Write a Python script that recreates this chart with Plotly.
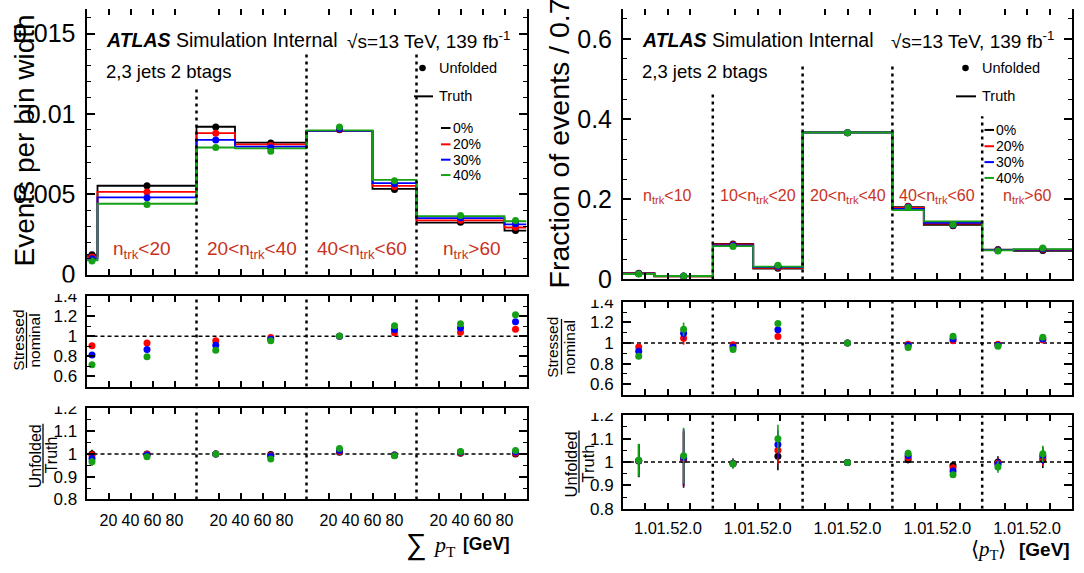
import plotly.graph_objects as go

W, H = 1084, 573
FONT = "Liberation Sans, Arial, Helvetica, sans-serif"
NARROW = "Liberation Sans Narrow, Arial Narrow, Liberation Sans, sans-serif"
SERIF = "Liberation Serif, Times New Roman, serif"
REGION_RED = "#c8321e"

stress_levels = ["0%", "20%", "30%", "40%"]
stress_colors = ["#000000", "#ff0000", "#0000ff", "#16a016"]

# ---------------- Sum pT in four n_trk regions (each region 0-100 GeV) ----------------
sumpt_regions = ["n<sub>trk</sub>&lt;20", "20&lt;n<sub>trk</sub>&lt;40",
                 "40&lt;n<sub>trk</sub>&lt;60", "n<sub>trk</sub>&gt;60"]
sumpt_region_width = 100
sumpt_bin_edges = [[0, 10, 100], [0, 35, 100], [0, 60, 100], [0, 80, 100]]
sumpt_ticks = [20, 40, 60, 80]
sumpt_tick_labels = ["20", "40", "60", "80"]

sumpt_truth = [
    [0.00123, 0.00553, 0.00920, 0.00821, 0.00895, 0.00533, 0.00324, 0.00274],
    [0.00111, 0.00515, 0.00880, 0.00810, 0.00895, 0.00552, 0.00337, 0.00293],
    [0.00100, 0.00480, 0.00838, 0.00797, 0.00895, 0.00569, 0.00351, 0.00313],
    [0.00088, 0.00441, 0.00791, 0.00785, 0.00897, 0.00589, 0.00364, 0.00332],
]
sumpt_unfolded = [
    [0.00123, 0.00553, 0.00919, 0.00819, 0.00901, 0.00530, 0.00325, 0.00274],
    [0.00110, 0.00514, 0.00880, 0.00804, 0.00904, 0.00549, 0.00339, 0.00294],
    [0.00098, 0.00478, 0.00838, 0.00789, 0.00908, 0.00566, 0.00354, 0.00316],
    [0.00085, 0.00436, 0.00791, 0.00768, 0.00918, 0.00584, 0.00368, 0.00337],
]
# stressed / nominal for the 20%, 30%, 40% variations
sumpt_stressed_ratio = [
    [0.905, 0.933, 0.956, 0.987, 1.000, 1.035, 1.040, 1.070],
    [0.813, 0.867, 0.911, 0.971, 1.000, 1.067, 1.083, 1.143],
    [0.717, 0.797, 0.860, 0.956, 1.002, 1.105, 1.124, 1.213],
]
sumpt_unfolded_ratio = [
    [1.000, 1.000, 0.999, 0.997, 1.007, 0.995, 1.003, 1.000],
    [0.995, 0.998, 0.999, 0.993, 1.010, 0.995, 1.005, 1.003],
    [0.980, 0.995, 1.000, 0.990, 1.015, 0.994, 1.008, 1.008],
    [0.965, 0.987, 1.000, 0.978, 1.024, 0.992, 1.011, 1.015],
]
sumpt_unfolded_ratio_err = [0.018, 0.004, 0.003, 0.004, 0.004, 0.004, 0.006, 0.012]

# ---------------- <pT> in five n_trk regions (each region 0.5-2.5 GeV) ----------------
meanpt_regions = ["n<sub>trk</sub>&lt;10", "10&lt;n<sub>trk</sub>&lt;20", "20&lt;n<sub>trk</sub>&lt;40",
                  "40&lt;n<sub>trk</sub>&lt;60", "n<sub>trk</sub>&gt;60"]
meanpt_region_width = 2.0
meanpt_bin_edges = [[0.5, 1.2, 2.5], [0.5, 1.4, 2.5], [0.5, 2.5], [0.5, 1.2, 2.5], [0.5, 1.2, 2.5]]
meanpt_ticks = [1.0, 1.5, 2.0]
meanpt_tick_labels = ["1.0", "1.5", "2.0"]

meanpt_truth = [
    [0.0155, 0.0075, 0.0885, 0.0270, 0.3666, 0.1805, 0.1360, 0.0745, 0.0715],
    [0.0149, 0.0079, 0.0871, 0.0287, 0.3666, 0.1782, 0.1390, 0.0735, 0.0735],
    [0.0142, 0.0082, 0.0851, 0.0305, 0.3665, 0.1760, 0.1414, 0.0729, 0.0744],
    [0.0135, 0.0085, 0.0829, 0.0321, 0.3665, 0.1726, 0.1450, 0.0722, 0.0755],
]
meanpt_unfolded = [
    [0.0156, 0.0076, 0.0881, 0.0277, 0.3659, 0.1823, 0.1340, 0.0745, 0.0722],
    [0.0150, 0.0080, 0.0866, 0.0301, 0.3659, 0.1818, 0.1357, 0.0731, 0.0750],
    [0.0143, 0.0084, 0.0845, 0.0328, 0.3658, 0.1809, 0.1360, 0.0722, 0.0765],
    [0.0136, 0.0087, 0.0822, 0.0353, 0.3658, 0.1791, 0.1372, 0.0707, 0.0781],
]
meanpt_stressed_ratio = [
    [0.962, 1.047, 0.984, 1.062, 1.000, 0.987, 1.022, 0.987, 1.028],
    [0.919, 1.094, 0.962, 1.128, 1.000, 0.975, 1.040, 0.978, 1.040],
    [0.872, 1.134, 0.937, 1.190, 1.000, 0.956, 1.066, 0.969, 1.056],
]
meanpt_stressed_ratio_err = [0.025, 0.065, 0.010, 0.015, 0.002, 0.008, 0.010, 0.010, 0.012]
meanpt_unfolded_ratio = [
    [1.005, 1.010, 0.995, 1.025, 0.998, 1.010, 0.985, 1.000, 1.010],
    [1.006, 1.015, 0.994, 1.050, 0.998, 1.020, 0.976, 0.995, 1.020],
    [1.007, 1.020, 0.993, 1.075, 0.998, 1.028, 0.962, 0.990, 1.028],
    [1.008, 1.027, 0.992, 1.100, 0.998, 1.038, 0.946, 0.979, 1.035],
]
meanpt_unfolded_ratio_err = [0.070, 0.120, 0.020, 0.060, 0.003, 0.015, 0.012, 0.025, 0.035]


# ---------------- helpers: flatten region-wise binning onto one axis ----------------
def flat_edges(edges, width):
    out = []
    for k, e in enumerate(edges):
        for v in e:
            g = k * width + v
            if not out or abs(g - out[-1]) > 1e-9:
                out.append(g)
    return out


def centers(edges):
    return [(a + b) / 2 for a, b in zip(edges[:-1], edges[1:])]


def boundaries(edges, width):
    return [k * width + e[-1] for k, e in enumerate(edges[:-1])]


def region_centres(edges, width):
    return [k * width + (e[0] + e[-1]) / 2 for k, e in enumerate(edges)]


def tick_positions(edges, width, ticks):
    return [k * width + t for k in range(len(edges)) for t in ticks]


L_EDGES = flat_edges(sumpt_bin_edges, sumpt_region_width)
L_CENT = centers(L_EDGES)
L_BOUND = boundaries(sumpt_bin_edges, sumpt_region_width)
L_RANGE = [L_EDGES[0], L_EDGES[-1]]
L_TICKS = tick_positions(sumpt_bin_edges, sumpt_region_width, sumpt_ticks)
L_TICKTEXT = sumpt_tick_labels * len(sumpt_bin_edges)

R_EDGES = flat_edges(meanpt_bin_edges, meanpt_region_width)
R_CENT = centers(R_EDGES)
R_BOUND = boundaries(meanpt_bin_edges, meanpt_region_width)
R_RANGE = [R_EDGES[0], R_EDGES[-1]]
R_TICKS = tick_positions(meanpt_bin_edges, meanpt_region_width, meanpt_ticks)
R_TICKTEXT = meanpt_tick_labels * len(meanpt_bin_edges)

fig = go.Figure()


def add_hist(truth, unfolded, x_edges, x_cent, xa, ya):
    for i, col in enumerate(stress_colors):
        fig.add_trace(go.Scatter(
            x=x_edges, y=truth[i] + [truth[i][-1]], mode="lines",
            line=dict(color=col, width=1.8, shape="hv"),
            xaxis=xa, yaxis=ya, hoverinfo="skip", showlegend=False))
    for i, col in enumerate(stress_colors):
        fig.add_trace(go.Scatter(
            x=x_cent, y=unfolded[i], mode="markers",
            marker=dict(color=col, size=7),
            xaxis=xa, yaxis=ya, hoverinfo="skip", showlegend=False))


def add_ratio(values, errs, colors, x_cent, xa, ya):
    for vals, col in zip(values, colors):
        fig.add_trace(go.Scatter(
            x=x_cent, y=vals, mode="markers",
            marker=dict(color=col, size=7),
            error_y=dict(type="data", array=errs, color=col, thickness=1.6, width=0),
            xaxis=xa, yaxis=ya, hoverinfo="skip", showlegend=False))


add_hist(sumpt_truth, sumpt_unfolded, L_EDGES, L_CENT, "x", "y")
add_ratio(sumpt_stressed_ratio, [0.0] * len(L_CENT), stress_colors[1:], L_CENT, "x2", "y2")
add_ratio(sumpt_unfolded_ratio, sumpt_unfolded_ratio_err, stress_colors, L_CENT, "x3", "y3")

add_hist(meanpt_truth, meanpt_unfolded, R_EDGES, R_CENT, "x4", "y4")
add_ratio(meanpt_stressed_ratio, meanpt_stressed_ratio_err, stress_colors[1:], R_CENT, "x5", "y5")
add_ratio(meanpt_unfolded_ratio, meanpt_unfolded_ratio_err, stress_colors, R_CENT, "x6", "y6")

# empty traces so the top tick axes of the main panels are drawn
fig.add_trace(go.Scatter(x=[], y=[], xaxis="x7", yaxis="y", showlegend=False))
fig.add_trace(go.Scatter(x=[], y=[], xaxis="x8", yaxis="y4", showlegend=False))


# ---------------- axes ----------------
def xdom(l, r):
    return [l / W, r / W]


def ydom(top, bottom):
    return [1 - bottom / H, 1 - top / H]


LX = xdom(86.5, 526.5)
RX = xdom(623, 1072)


def x_cfg(dom, rng, ticks, text, anchor, show_labels, mirror, size=16, family=FONT, **kw):
    d = dict(domain=dom, range=rng, anchor=anchor, tickmode="array", tickvals=ticks,
             ticktext=text, showticklabels=show_labels, ticks="inside", ticklen=6,
             tickwidth=1.5, tickcolor="black", showline=True, linecolor="black",
             linewidth=2, mirror=mirror, showgrid=False, zeroline=False,
             ticklabelstandoff=5, tickangle=0,
             tickfont=dict(family=family, size=size, color="black"))
    d.update(kw)
    return d


def y_cfg(dom, rng, anchor, dtick, minor, size):
    return dict(domain=dom, range=rng, anchor=anchor, tick0=0, dtick=dtick,
                ticks="inside", ticklen=8, tickwidth=1.5, tickcolor="black",
                minor=dict(dtick=minor, tick0=0, ticks="inside", ticklen=4,
                           tickwidth=1.2, tickcolor="black"),
                showline=True, linecolor="black", linewidth=2, mirror="ticks",
                showgrid=False, zeroline=False, ticklabelstandoff=4,
                tickfont=dict(family=FONT, size=size, color="black"))


top_overlay = dict(ticks="inside", ticklen=6, tickwidth=1.5, tickcolor="black",
                   showline=False, showticklabels=False, showgrid=False,
                   zeroline=False, side="top", tickmode="array")

fig.update_layout(
    width=W, height=H, margin=dict(l=0, r=0, t=0, b=0),
    paper_bgcolor="white", plot_bgcolor="white", showlegend=False,
    xaxis=x_cfg(LX, L_RANGE, L_TICKS, L_TICKTEXT, "y", False, False),
    yaxis=y_cfg(ydom(0, 276.7), [0, 0.01653], "x", 0.005, 0.001, 25),
    xaxis2=x_cfg(LX, L_RANGE, L_TICKS, L_TICKTEXT, "y2", False, "ticks"),
    yaxis2=y_cfg(ydom(299, 393.3), [0.5, 1.4], "x2", 0.2, 0.1, 17),
    xaxis3=x_cfg(LX, L_RANGE, L_TICKS, L_TICKTEXT, "y3", True, "ticks", size=16),
    yaxis3=y_cfg(ydom(416, 511), [0.8, 1.2], "x3", 0.1, 0.05, 17),
    xaxis4=x_cfg(RX, R_RANGE, R_TICKS, R_TICKTEXT, "y4", False, False),
    yaxis4=y_cfg(ydom(0, 281.7), [0, 0.6747], "x4", 0.2, 0.05, 25),
    xaxis5=x_cfg(RX, R_RANGE, R_TICKS, R_TICKTEXT, "y5", False, "ticks"),
    yaxis5=y_cfg(ydom(305, 401.7), [0.5, 1.4], "x5", 0.2, 0.1, 17),
    xaxis6=x_cfg(RX, R_RANGE, R_TICKS, R_TICKTEXT, "y6", True, "ticks", size=16.5,
                 family=NARROW, ticklabelstandoff=3),
    yaxis6=y_cfg(ydom(423.3, 520.7), [0.8, 1.2], "x6", 0.1, 0.05, 17),
    xaxis7=dict(top_overlay, overlaying="x", anchor="y", range=L_RANGE, tickvals=L_TICKS),
    xaxis8=dict(top_overlay, overlaying="x4", anchor="y4", range=R_RANGE, tickvals=R_TICKS),
)

# ---------------- region separators and reference lines ----------------
DOT = dict(color="black", width=2.5, dash="3px,4px")
sumpt_sep_tops = [0.01165, 0.01384, 0.01384]
meanpt_sep_tops = [0.4688, 0.531, 0.531, 0.407]

for xb, top in zip(L_BOUND, sumpt_sep_tops):
    fig.add_shape(type="line", xref="x", yref="y", x0=xb, x1=xb, y0=0, y1=top, line=DOT)
for xa, ya, lo, hi in [("x2", "y2", 0.5, 1.4), ("x3", "y3", 0.8, 1.2)]:
    for xb in L_BOUND:
        fig.add_shape(type="line", xref=xa, yref=ya, x0=xb, x1=xb, y0=lo, y1=hi, line=DOT)
    fig.add_shape(type="line", xref=xa, yref=ya, x0=L_RANGE[0], x1=L_RANGE[1], y0=1, y1=1,
                  line=dict(color="black", width=1.5, dash="4px,3px"), layer="below")

for xb, top in zip(R_BOUND, meanpt_sep_tops):
    fig.add_shape(type="line", xref="x4", yref="y4", x0=xb, x1=xb, y0=0, y1=top, line=DOT)
for xa, ya, lo, hi in [("x5", "y5", 0.5, 1.4), ("x6", "y6", 0.8, 1.2)]:
    for xb in R_BOUND:
        fig.add_shape(type="line", xref=xa, yref=ya, x0=xb, x1=xb, y0=lo, y1=hi, line=DOT)
    fig.add_shape(type="line", xref=xa, yref=ya, x0=R_RANGE[0], x1=R_RANGE[1], y0=1, y1=1,
                  line=dict(color="black", width=1.5, dash="4px,3px"), layer="below")

# the topmost ratio tick labels are cut by the pad edge
for x0, x1, y0, y1 in [(30, 84, 285, 297), (30, 84, 398, 414),
                       (580, 620, 292, 303), (580, 620, 406, 421)]:
    fig.add_shape(type="rect", xref="paper", yref="paper", x0=x0 / W, x1=x1 / W,
                  y0=1 - y1 / H, y1=1 - y0 / H, fillcolor="white", line=dict(width=0),
                  layer="above")


# ---------------- texts ----------------
def text(t, px, py, size, xanchor="left", yanchor="middle", color="black", angle=0, family=FONT):
    fig.add_annotation(text=t, x=px / W, y=1 - py / H, xref="paper", yref="paper",
                       xanchor=xanchor, yanchor=yanchor, showarrow=False, textangle=angle,
                       font=dict(family=family, size=size, color=color))


def hline(x0, x1, py, color, width=2):
    fig.add_shape(type="line", xref="paper", yref="paper", x0=x0 / W, x1=x1 / W,
                  y0=1 - py / H, y1=1 - py / H, line=dict(color=color, width=width))


def vline(px, y0, y1, width=1.3):
    fig.add_shape(type="line", xref="paper", yref="paper", x0=px / W, x1=px / W,
                  y0=1 - y0 / H, y1=1 - y1 / H, line=dict(color="black", width=width))


def dot(cx, cy, r=3.3):
    fig.add_shape(type="circle", xref="paper", yref="paper", x0=(cx - r) / W, x1=(cx + r) / W,
                  y0=1 - (cy + r) / H, y1=1 - (cy - r) / H, fillcolor="black",
                  line=dict(color="black", width=0))


# region labels
for xc, lab in zip(region_centres(sumpt_bin_edges, sumpt_region_width), sumpt_regions):
    fig.add_annotation(text=lab, x=xc, y=0.00150, xref="x", yref="y", showarrow=False,
                       xanchor="center", yanchor="middle",
                       font=dict(family=FONT, size=19, color=REGION_RED))
for xc, lab in zip(region_centres(meanpt_bin_edges, meanpt_region_width), meanpt_regions):
    fig.add_annotation(text=lab, x=xc, y=0.207, xref="x4", yref="y4", showarrow=False,
                       xanchor="center", yanchor="middle",
                       font=dict(family=FONT, size=16, color=REGION_RED))

for ox, sq in [(104, 345), (640, 889)]:
    text("<b><i>ATLAS</i></b> Simulation Internal", ox, 32, 19.5)
    text("\u221as=13 TeV, 139 fb<sup>-1</sup>", sq, 32, 19)
    text("2,3 jets 2 btags", ox, 65, 18.5)

# legends
for mx, tx, l0, l1, sx, sy in [(422.5, 437, 414, 433, 441, [124, 141, 157, 173]),
                                (965.5, 980, 956, 976, 984.5, [126, 143, 159.5, 176])]:
    dot(mx, 61.5)
    text("Unfolded", tx, 61.5, 14.5)
    hline(l0, l1, 91, "black", 2)
    text("Truth", tx, 91, 14.5)
    for yy, lab, col in zip(sy, stress_levels, stress_colors):
        hline(sx, sx + 9.5, yy, col, 2)
        text(lab, sx + 9.5, yy, 14)

# y axis titles
text("Events per bin width", 25, 137, 28, xanchor="center", angle=-90)
text("Fraction of events / 0.7", 559, 140, 28.5, xanchor="center", angle=-90)

text("Stressed", 18.5, 345, 15.5, xanchor="center", angle=-90)
vline(26.5, 316, 374)
text("nominal", 34.5, 346, 15.5, xanchor="center", angle=-90)

text("Unfolded", 35, 466, 16, xanchor="center", angle=-90)
vline(43, 432, 494)
text("Truth", 51, 465, 16, xanchor="center", angle=-90)

text("Stressed", 553, 353, 15.5, xanchor="center", angle=-90)
vline(561.5, 323, 381)
text("nominal", 569.5, 353, 15.5, xanchor="center", angle=-90)

text("Unfolded", 570.5, 475, 16.5, xanchor="center", angle=-90)
vline(579, 439, 504)
text("Truth", 587.5, 474, 16.5, xanchor="center", angle=-90)

# x axis titles
text("\u2211", 416.5, 558, 29, xanchor="center")
text("<i>p</i><sub>T</sub>", 431, 559, 22, family=SERIF)
text("<b>[GeV]</b>", 512, 557, 17.5, xanchor="right")

text("\u27e8<i>p</i><sub>T</sub>\u27e9", 969, 564, 21, family=SERIF)
text("<b>[GeV]</b>", 1072, 563, 19, xanchor="right")

fig.write_html("out.html")
